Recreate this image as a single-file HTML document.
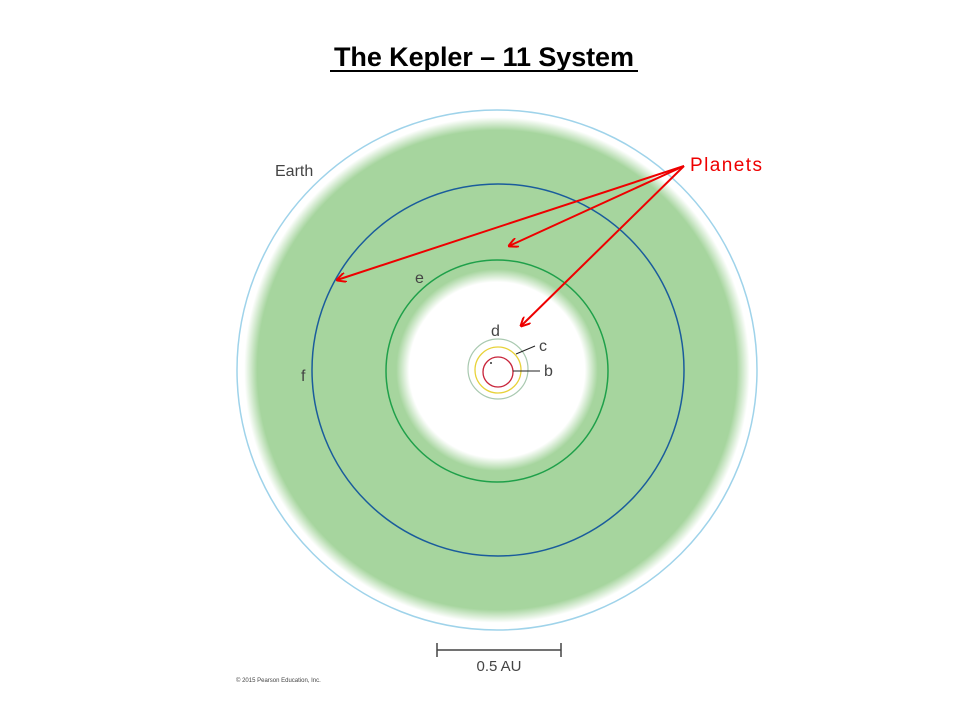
<!DOCTYPE html>
<html><head><style>
html,body{margin:0;padding:0;background:#fff;width:960px;height:720px;overflow:hidden}
</style></head><body>
<svg width="960" height="720" viewBox="0 0 960 720" xmlns="http://www.w3.org/2000/svg">
<defs>
<radialGradient id="g" cx="497" cy="370" r="262" gradientUnits="userSpaceOnUse">
<stop offset="0" stop-color="#fff"/>
<stop offset="0.335" stop-color="#fff"/>
<stop offset="0.385" stop-color="#a6d59e"/>
<stop offset="0.915" stop-color="#a6d59e"/>
<stop offset="0.965" stop-color="#fff"/>
<stop offset="1" stop-color="#fff"/>
</radialGradient>
<marker id="ah" markerWidth="10" markerHeight="10" refX="9" refY="5" orient="auto" markerUnits="userSpaceOnUse">
<path d="M0,0 L10,5 L0,10" fill="none" stroke="#e00" stroke-width="2"/>
</marker>
</defs>
<text x="484" y="66" text-anchor="middle" font-family="Liberation Sans, sans-serif" font-weight="bold" font-size="27" fill="#000" textLength="300">The Kepler – 11 System</text>
<line x1="330" y1="71" x2="638" y2="71" stroke="#000" stroke-width="2"/>
<circle cx="497" cy="370" r="262" fill="url(#g)"/>
<circle cx="497" cy="370" r="260" fill="none" stroke="#9fd3ea" stroke-width="1.5"/>
<circle cx="498" cy="370" r="186" fill="none" stroke="#1a5c9c" stroke-width="1.5"/>
<circle cx="497" cy="371" r="111" fill="none" stroke="#1fa04a" stroke-width="1.5"/>
<circle cx="498" cy="369" r="30" fill="none" stroke="#a9c9b0" stroke-width="1.2"/>
<circle cx="498" cy="370" r="23" fill="none" stroke="#e8d23a" stroke-width="1.3"/>
<circle cx="498" cy="372" r="15" fill="none" stroke="#c8243a" stroke-width="1.3"/>
<circle cx="491" cy="363" r="1" fill="#333"/>
<line x1="516" y1="354" x2="535" y2="346" stroke="#222" stroke-width="1"/>
<line x1="513" y1="371" x2="540" y2="371" stroke="#222" stroke-width="1"/>
<g font-family="Liberation Sans, sans-serif" fill="#444" font-size="16">
<text x="275" y="176">Earth</text>
<text x="415" y="283">e</text>
<text x="301" y="381">f</text>
<text x="491" y="336">d</text>
<text x="539" y="351">c</text>
<text x="544" y="376">b</text>
<text x="499" y="671" text-anchor="middle" font-size="15">0.5 AU</text>
<text x="236" y="682" font-size="6">© 2015 Pearson Education, Inc.</text>
</g>
<line x1="437" y1="650" x2="561" y2="650" stroke="#444" stroke-width="1.5"/>
<line x1="437" y1="643" x2="437" y2="657" stroke="#444" stroke-width="1.5"/>
<line x1="561" y1="643" x2="561" y2="657" stroke="#444" stroke-width="1.5"/>
<g stroke="#e00" stroke-width="2" fill="none">
<line x1="684" y1="166" x2="337" y2="280" marker-end="url(#ah)"/>
<line x1="684" y1="166" x2="509" y2="246" marker-end="url(#ah)"/>
<line x1="684" y1="166" x2="521" y2="326" marker-end="url(#ah)"/>
</g>
<text x="690" y="171" font-family="Liberation Sans, sans-serif" font-size="19" fill="#e00" textLength="72">Planets</text>
</svg>
</body></html>
